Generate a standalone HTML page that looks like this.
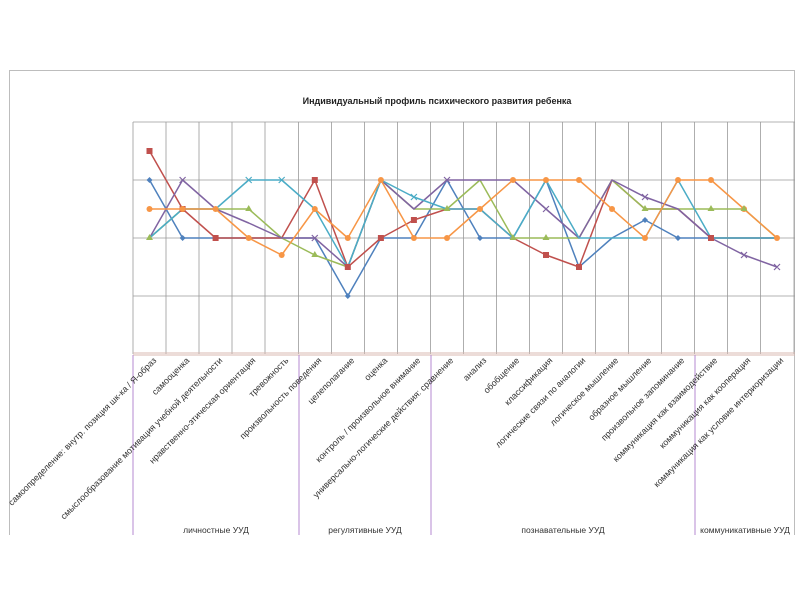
<!DOCTYPE html>
<html><head><meta charset="utf-8"><style>
html,body{margin:0;padding:0;background:#fff;width:800px;height:600px;overflow:hidden}
svg{display:block;font-family:"Liberation Sans",sans-serif}
</style></head><body>
<svg width="800" height="600" viewBox="0 0 800 600">
<path d="M9.5 535V70.5H794.5V535" fill="none" stroke="#bdbdbd" stroke-width="1"/>
<text x="437" y="104" font-size="9" font-weight="bold" text-anchor="middle" fill="#222">Индивидуальный профиль психического развития ребенка</text>
<g stroke="#9a9a9a" stroke-width="0.8" fill="none">
<line x1="133" y1="122" x2="795" y2="122"/>
<line x1="133" y1="180" x2="795" y2="180"/>
<line x1="133" y1="238" x2="795" y2="238"/>
<line x1="133" y1="296" x2="795" y2="296"/>
<path d="M133 122V354M166 122V354M199 122V354M232 122V354M265 122V354M298.5 122V354M331.5 122V354M364.5 122V354M397.5 122V354M430.5 122V354M463.5 122V354M496.5 122V354M529.5 122V354M562.5 122V354M595.5 122V354M628.5 122V354M661.5 122V354M694.5 122V354M727.5 122V354M760.5 122V354M794 122V354"/>
</g>
<line x1="133" y1="353" x2="795" y2="353" stroke="#d8b8b0" stroke-width="1"/>
<line x1="133" y1="355" x2="795" y2="355" stroke="#d8b8b0" stroke-width="1"/>
<g stroke="#b48ad0" stroke-width="1">
<line x1="133" y1="355" x2="133" y2="535"/>
<line x1="299" y1="355" x2="299" y2="535"/>
<line x1="431" y1="355" x2="431" y2="535"/>
<line x1="695" y1="355" x2="695" y2="535"/>
</g>
<g fill="none" stroke-width="1.5" stroke-linejoin="round">
<polyline stroke="#4F81BD" points="149.5,180 182.6,238 215.6,238 248.7,238 281.7,238 314.8,238 347.8,296 380.9,238 413.9,238 447,180 480,238 513,238 546,180 579,267 612,238 645,220 678,238 711,238 744,238 777,238"/>
<polyline stroke="#C0504D" points="149.5,151 182.6,209 215.6,238 248.7,238 281.7,238 314.8,180 347.8,267 380.9,238 413.9,220 447,209 480,209 513,238 546,255 579,267 612,180 645,209 678,209 711,238 744,238 777,238"/>
<polyline stroke="#9BBB59" points="149.5,238 182.6,209 215.6,209 248.7,209 281.7,238 314.8,255 347.8,267 380.9,180 413.9,209 447,209 480,180 513,238 546,238 579,238 612,180 645,209 678,209 711,209 744,209 777,238"/>
<polyline stroke="#8064A2" points="149.5,238 182.6,180 215.6,209 248.7,223 281.7,238 314.8,238 347.8,267 380.9,180 413.9,209 447,180 480,180 513,180 546,209 579,238 612,180 645,197 678,209 711,238 744,255 777,267"/>
<polyline stroke="#4BACC6" points="149.5,238 182.6,209 215.6,209 248.7,180 281.7,180 314.8,209 347.8,267 380.9,180 413.9,197 447,209 480,209 513,238 546,180 579,238 612,238 645,238 678,180 711,238 744,238 777,238"/>
<polyline stroke="#F79646" points="149.5,209 182.6,209 215.6,209 248.7,238 281.7,255 314.8,209 347.8,238 380.9,180 413.9,238 447,238 480,209 513,180 546,180 579,180 612,209 645,238 678,180 711,180 744,209 777,238"/>
</g>
<g fill="#C0504D">
<rect x="146.5" y="148" width="6" height="6"/><rect x="179.6" y="206" width="6" height="6"/><rect x="212.6" y="235" width="6" height="6"/><rect x="311.8" y="177" width="6" height="6"/><rect x="344.8" y="264" width="6" height="6"/><rect x="377.9" y="235" width="6" height="6"/><rect x="410.9" y="217" width="6" height="6"/><rect x="543" y="252" width="6" height="6"/><rect x="576" y="264" width="6" height="6"/><rect x="708" y="235" width="6" height="6"/>
</g>
<g fill="#F79646">
<circle cx="149.5" cy="209" r="3"/><circle cx="182.6" cy="209" r="3"/><circle cx="215.6" cy="209" r="3"/><circle cx="248.7" cy="238" r="3"/><circle cx="281.7" cy="255" r="3"/><circle cx="314.8" cy="209" r="3"/><circle cx="347.8" cy="238" r="3"/><circle cx="380.9" cy="180" r="3"/><circle cx="413.9" cy="238" r="3"/><circle cx="447" cy="238" r="3"/><circle cx="480" cy="209" r="3"/><circle cx="513" cy="180" r="3"/><circle cx="546" cy="180" r="3"/><circle cx="579" cy="180" r="3"/><circle cx="612" cy="209" r="3"/><circle cx="645" cy="238" r="3"/><circle cx="678" cy="180" r="3"/><circle cx="711" cy="180" r="3"/><circle cx="744" cy="209" r="3"/><circle cx="777" cy="238" r="3"/>
</g>
<g fill="#9BBB59">
<path d="M149.5 234l3.5 6h-7zM248.7 205l3.5 6h-7zM314.8 251l3.5 6h-7zM447 205l3.5 6h-7zM513 234l3.5 6h-7zM546 234l3.5 6h-7zM645 205l3.5 6h-7zM711 205l3.5 6h-7zM744 205l3.5 6h-7z"/>
</g>
<g fill="#4F81BD">
<path d="M149.5 177l3 3-3 3-3-3zM182.6 235l3 3-3 3-3-3zM347.8 293l3 3-3 3-3-3zM480 235l3 3-3 3-3-3zM645 217l3 3-3 3-3-3zM678 235l3 3-3 3-3-3z"/>
</g>
<g stroke="#8064A2" stroke-width="1.2">
<path d="M179.6 177l6 6m0-6l-6 6M311.8 235l6 6m0-6l-6 6M444 177l6 6m0-6l-6 6M543 206l6 6m0-6l-6 6M642 194l6 6m0-6l-6 6M741 252l6 6m0-6l-6 6M774 264l6 6m0-6l-6 6"/>
</g>
<g stroke="#4BACC6" stroke-width="1.2">
<path d="M245.7 177l6 6m0-6l-6 6M278.7 177l6 6m0-6l-6 6M410.9 194l6 6m0-6l-6 6"/>
</g>
<g font-size="8.8" fill="#333" text-anchor="end">
<text transform="translate(157,361) rotate(-45)">самоопределение: внутр. позиция шк-ка / Я-образ</text>
<text transform="translate(190,361) rotate(-45)">самооценка</text>
<text transform="translate(223,361) rotate(-45)">смыслообразование мотивация учебной деятельности</text>
<text transform="translate(256,361) rotate(-45)">нравственно-этическая ориентация</text>
<text transform="translate(289,361) rotate(-45)">тревожность</text>
<text transform="translate(322,361) rotate(-45)">произвольность поведения</text>
<text transform="translate(355,361) rotate(-45)">целеполагание</text>
<text transform="translate(388,361) rotate(-45)">оценка</text>
<text transform="translate(421,361) rotate(-45)">контроль / произвольное внимание</text>
<text transform="translate(454,361) rotate(-45)">универсально-логические действия: сравнение</text>
<text transform="translate(487,361) rotate(-45)">анализ</text>
<text transform="translate(520,361) rotate(-45)">обобщение</text>
<text transform="translate(553,361) rotate(-45)">классификация</text>
<text transform="translate(586,361) rotate(-45)">логические связи по аналогии</text>
<text transform="translate(619,361) rotate(-45)">логическое мышление</text>
<text transform="translate(652,361) rotate(-45)">образное мышление</text>
<text transform="translate(685,361) rotate(-45)">произвольное запоминание</text>
<text transform="translate(718,361) rotate(-45)">коммуникация как взаимодействие</text>
<text transform="translate(751,361) rotate(-45)">коммуникация как кооперация</text>
<text transform="translate(784,361) rotate(-45)">коммуникация как условие интериоризации</text>
</g>
<g font-size="8.5" fill="#333" text-anchor="middle">
<text x="216" y="533">личностные УУД</text>
<text x="365" y="533">регулятивные УУД</text>
<text x="563" y="533">познавательные УУД</text>
<text x="745" y="533">коммуникативные УУД</text>
</g>
</svg>
</body></html>
